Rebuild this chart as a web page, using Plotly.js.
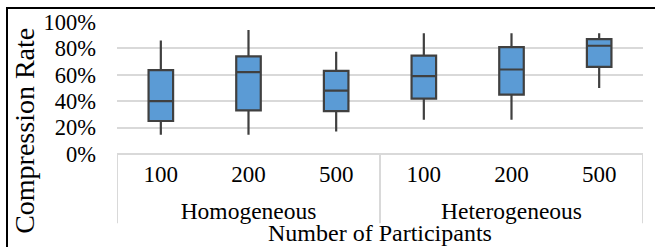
<!DOCTYPE html>
<html>
<head>
<meta charset="utf-8">
<script src="https://cdn.plot.ly/plotly-3.0.1.min.js"></script>
<style>
  html, body { margin: 0; padding: 0; background: #fff; }
  #wrap { position: relative; width: 655px; height: 247px; overflow: hidden; }
  #frame { position: absolute; left: 6px; top: 7px; width: 700px; height: 300px;
           border-left: 2px solid #000; border-top: 2px solid #000; box-sizing: border-box; }
  #chart { position: absolute; left: 0; top: 0; width: 655px; height: 247px; }
</style>
</head>
<body>
<div id="wrap">
  <div id="frame"></div>
  <div id="chart"></div>
</div>
<script>
// Data (percent)
var groups = ["Homogeneous", "Homogeneous", "Homogeneous", "Heterogeneous", "Heterogeneous", "Heterogeneous"];
var participants = ["100", "200", "500", "100", "200", "500"];
var lowerWhisker = [14.5, 14.5, 17, 26, 26, 50];
var q1 = [25, 33, 32.5, 42, 45, 66];
var median = [40, 62, 48, 59, 64, 82];
var q3 = [63.5, 74, 63, 74.5, 81, 87];
var upperWhisker = [86, 94, 77.5, 91.5, 91.5, 91.5];
var yTickVals = [0, 20, 40, 60, 80, 100];

var serif = "Liberation Serif";
var positions = participants.map(function (_, i) { return i; });

// group label positions and divider positions derived from the categories
var groupNames = [], groupCenters = [], dividers = [positions[0] - 0.5];
groups.forEach(function (g, i) {
  var k = groupNames.indexOf(g);
  if (k < 0) { groupNames.push(g); groupCenters.push([i]); }
  else groupCenters[k].push(i);
  if (i > 0 && groups[i - 1] !== g) dividers.push(i - 0.5);
});
dividers.push(positions[positions.length - 1] + 0.5);
groupCenters = groupCenters.map(function (a) { return (a[0] + a[a.length - 1]) / 2; });

var boxTrace = {
  type: "box",
  x: positions,
  q1: q1,
  median: median,
  q3: q3,
  lowerfence: lowerWhisker,
  upperfence: upperWhisker,
  fillcolor: "#5b9bd5",
  line: { color: "#404040", width: 2.2 },
  whiskerwidth: 0,
  boxpoints: false,
  hoverinfo: "skip",
  showlegend: false
};

// invisible trace bound to the group-label axis
var groupTrace = {
  type: "scatter",
  mode: "markers",
  x: groupCenters,
  y: [0, 0],
  xaxis: "x2",
  marker: { opacity: 0 },
  hoverinfo: "skip",
  showlegend: false
};

var shapes = dividers.map(function (d) {
  return {
    type: "line", xref: "x", yref: "paper",
    x0: d, x1: d, y0: 0, y1: -0.525,
    line: { color: "#d9d9d9", width: 2 },
    layer: "below"
  };
});

var layout = {
  width: 655,
  height: 247,
  margin: { l: 117, r: 12, t: 22, b: 93 },
  paper_bgcolor: "rgba(0,0,0,0)",
  plot_bgcolor: "rgba(0,0,0,0)",
  boxgap: 0.6,
  showlegend: false,
  font: { family: serif, color: "#000", size: 23 },
  xaxis: {
    range: [-0.5, 5.5],
    tickmode: "array",
    tickvals: positions,
    ticktext: participants,
    showgrid: false,
    showline: false,
    zeroline: false,
    ticks: "",
    ticklabelstandoff: 4,
    tickfont: { family: serif, size: 23, color: "#000" }
  },
  xaxis2: {
    overlaying: "x",
    side: "bottom",
    range: [-0.5, 5.5],
    tickmode: "array",
    tickvals: groupCenters,
    ticktext: groupNames,
    showgrid: false,
    showline: false,
    zeroline: false,
    ticks: "",
    ticklabelstandoff: 40,
    tickfont: { family: serif, size: 23.5, color: "#000" }
  },
  yaxis: {
    range: [0, 100],
    tickmode: "array",
    tickvals: yTickVals,
    ticktext: yTickVals.map(function (v) { return v + "%"; }),
    showgrid: true,
    gridcolor: "#d9d9d9",
    gridwidth: 2,
    zeroline: true,
    zerolinecolor: "#d9d9d9",
    zerolinewidth: 2,
    showline: false,
    ticks: "",
    ticklabelstandoff: 20,
    tickfont: { family: serif, size: 22.5, color: "#000" }
  },
  shapes: shapes,
  annotations: [
    {
      text: "Compression Rate",
      xref: "paper", yref: "paper",
      x: -0.175, y: 0.175,
      xanchor: "center", yanchor: "middle",
      textangle: -90,
      showarrow: false,
      font: { family: serif, size: 28, color: "#000" }
    },
    {
      text: "Number of Participants",
      xref: "paper", yref: "paper",
      x: 0.5, y: -0.6,
      xanchor: "center", yanchor: "middle",
      showarrow: false,
      font: { family: serif, size: 24, color: "#000" }
    }
  ]
};

Plotly.newPlot("chart", [boxTrace, groupTrace], layout, { displayModeBar: false, staticPlot: true });
</script>
</body>
</html>
